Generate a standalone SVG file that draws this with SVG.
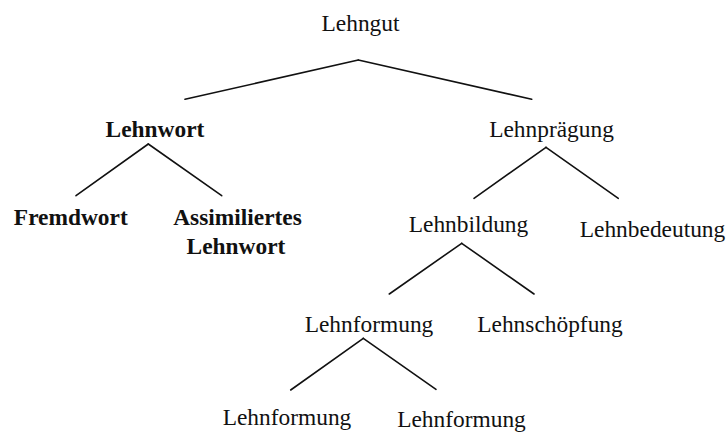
<svg xmlns="http://www.w3.org/2000/svg" width="728" height="432" viewBox="0 0 728 432">
<style>
text{font-family:"Liberation Serif","Times New Roman",serif;font-size:23.4px;fill:#111;text-anchor:middle}
.b{font-weight:bold}
.c line{stroke:#111;stroke-width:1.6;stroke-linecap:round}
</style>
<rect width="728" height="432" fill="#fff"/>
<g class="c" id="connectors">
<line x1="358.3" y1="60" x2="185" y2="99.3"/>
<line x1="358.3" y1="60" x2="531.7" y2="99.3"/>
<line x1="148.3" y1="144" x2="76" y2="195.7"/>
<line x1="148.3" y1="144" x2="221.7" y2="195.7"/>
<line x1="546" y1="147.3" x2="474" y2="198.3"/>
<line x1="546" y1="147.3" x2="618.3" y2="198.3"/>
<line x1="461.7" y1="243.3" x2="389.3" y2="294"/>
<line x1="461.7" y1="243.3" x2="534" y2="294"/>
<line x1="363.3" y1="338.3" x2="290.7" y2="390"/>
<line x1="363.3" y1="338.3" x2="436" y2="389.3"/>
</g>
<g id="lehngut"><text x="360.5" y="31">Lehngut</text></g>
<g id="lehnwort"><text class="b" x="155" y="137">Lehnwort</text></g>
<g id="lehnpraegung"><text x="551.5" y="137">Lehnprägung</text></g>
<g id="fremdwort"><text class="b" x="70.8" y="225">Fremdwort</text></g>
<g id="assimiliertes"><text class="b" x="237.5" y="225">Assimiliertes</text><text class="b" x="236" y="254">Lehnwort</text></g>
<g id="lehnbildung"><text x="468.5" y="232">Lehnbildung</text></g>
<g id="lehnbedeutung"><text x="652.5" y="237">Lehnbedeutung</text></g>
<g id="lehnformung"><text x="369" y="331.5">Lehnformung</text></g>
<g id="lehnschoepfung"><text x="550" y="331.5">Lehnschöpfung</text></g>
<g id="lehnformung2"><text x="287" y="425">Lehnformung</text></g>
<g id="lehnformung3"><text x="461.5" y="426.5">Lehnformung</text></g>
</svg>
